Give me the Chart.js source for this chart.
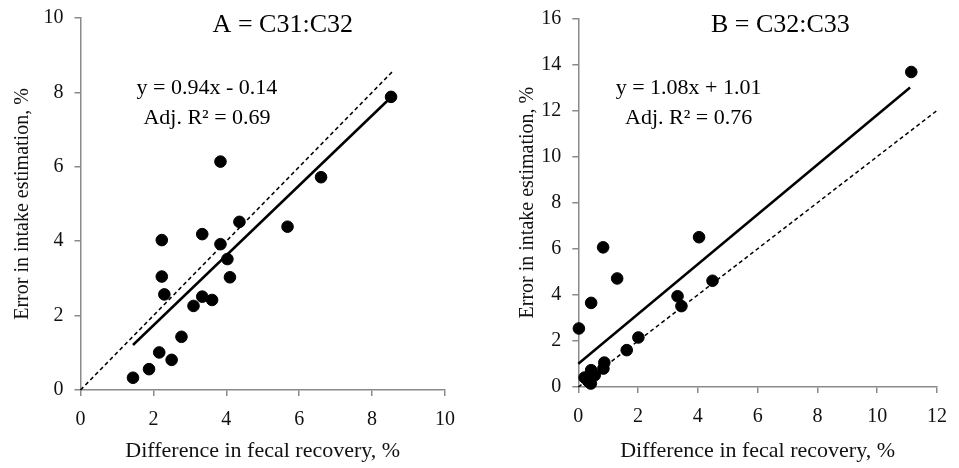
<!DOCTYPE html>
<html>
<head>
<meta charset="utf-8">
<script src="https://cdn.jsdelivr.net/npm/chart.js@4.4.1/dist/chart.umd.min.js"></script>
<style>
  body { margin: 0; background: #fff; width: 959px; height: 468px; overflow: hidden; position: relative; }
  canvas { position: absolute; top: 0; }
  #chartA { left: 0; }
  #chartB { left: 480px; }
</style>
</head>
<body>
<canvas id="chartA" width="480" height="468"></canvas>
<canvas id="chartB" width="479" height="468"></canvas>
<script>
// panel A  (C31:C32)
const pointsA = [
  {x: 1.44, y: 0.33}, {x: 1.88, y: 0.56}, {x: 2.16, y: 1.01}, {x: 2.50, y: 0.81},
  {x: 2.77, y: 1.43}, {x: 2.23, y: 4.03}, {x: 2.23, y: 3.05}, {x: 2.30, y: 2.57},
  {x: 3.10, y: 2.26}, {x: 3.34, y: 2.51}, {x: 3.61, y: 2.42}, {x: 3.34, y: 4.19},
  {x: 3.84, y: 3.92}, {x: 4.03, y: 3.52}, {x: 4.10, y: 3.03}, {x: 4.36, y: 4.52},
  {x: 3.84, y: 6.14}, {x: 5.68, y: 4.39}, {x: 6.60, y: 5.72}, {x: 8.52, y: 7.88}
];
const fitA = [{x: 1.44, y: 1.21}, {x: 8.52, y: 7.87}];
const identityA = [{x: 0, y: 0}, {x: 8.55, y: 8.55}];
const xTicksA = [0, 2, 4, 6, 8, 10];
const yTicksA = [0, 2, 4, 6, 8, 10];
const titleA = 'A = C31:C32';
const eqA = 'y = 0.94x - 0.14';
const r2A = 'Adj. R\u00b2 = 0.69';

// panel B  (C32:C33)
const pointsB = [
  {x: 0.02, y: 2.54}, {x: 0.21, y: 0.41}, {x: 0.33, y: 0.25}, {x: 0.42, y: 0.15},
  {x: 0.43, y: 0.73}, {x: 0.43, y: 3.65}, {x: 0.55, y: 0.51}, {x: 0.83, y: 6.06},
  {x: 0.84, y: 0.80}, {x: 0.87, y: 1.06}, {x: 1.30, y: 4.71}, {x: 1.62, y: 1.60},
  {x: 2.01, y: 2.15}, {x: 3.32, y: 3.94}, {x: 3.45, y: 3.51}, {x: 4.04, y: 6.50},
  {x: 4.49, y: 4.61}, {x: 11.14, y: 13.67}
];
const fitB = [{x: 0, y: 1.01}, {x: 11.1, y: 13.0}];
const identityB = [{x: 0, y: 0}, {x: 12, y: 12}];
const xTicksB = [0, 2, 4, 6, 8, 10, 12];
const yTicksB = [0, 2, 4, 6, 8, 10, 12, 14, 16];
const titleB = 'B = C32:C33';
const eqB = 'y = 1.08x + 1.01';
const r2B = 'Adj. R\u00b2 = 0.76';

const FONT = '"Liberation Serif", "Times New Roman", serif';
const AXIS = '#8a8a8a';

const textPlugin = {
  id: 'texts',
  afterDatasetsDraw(chart, args, opts) {
    const ctx = chart.ctx, sx = chart.scales.x, sy = chart.scales.y;
    ctx.save();
    ctx.fillStyle = '#000';
    ctx.textAlign = 'center';
    ctx.textBaseline = 'middle';
    opts.items.forEach(function (it) {
      ctx.font = it.size + 'px ' + FONT;
      ctx.fillText(it.text, sx.getPixelForValue(it.x), sy.getPixelForValue(it.y));
    });
    ctx.restore();
  }
};

function makeChart(id, p) {
  return new Chart(document.getElementById(id), {
    type: 'scatter',
    data: {
      datasets: [
        {
          type: 'line', data: p.identity, borderColor: '#000', borderWidth: 1.5,
          borderDash: [4, 3], pointRadius: 0, fill: false, clip: false
        },
        {
          type: 'line', data: p.fit, borderColor: '#000', borderWidth: 2.5,
          pointRadius: 0, fill: false, clip: false
        },
        {
          data: p.points, backgroundColor: '#000', borderColor: '#000',
          pointRadius: 5.8, pointHoverRadius: 5.8, clip: false
        }
      ]
    },
    options: {
      responsive: false,
      animation: false,
      events: [],
      layout: { padding: { left: 0, right: p.padRight, top: p.padTop, bottom: 0 } },
      plugins: {
        legend: { display: false },
        tooltip: { enabled: false },
        texts: { items: p.texts }
      },
      scales: {
        x: {
          type: 'linear', min: p.xTicks[0], max: p.xTicks[p.xTicks.length - 1],
          afterBuildTicks: function (s) { s.ticks = p.xTicks.map(function (v) { return {value: v}; }); },
          afterFit: function (s) { s.height = p.xHeight; },
          border: { color: AXIS, width: 1.5 },
          grid: { drawOnChartArea: false, drawTicks: true, tickLength: 6, color: AXIS, lineWidth: 1.5 },
          ticks: { color: '#111', font: { family: FONT, size: 20 }, padding: 12, maxRotation: 0 },
          title: {
            display: true, text: 'Difference in fecal recovery, %', color: '#111',
            font: { family: FONT, size: 22 }, padding: { top: 0, bottom: 4 }
          }
        },
        y: {
          type: 'linear', min: p.yTicks[0], max: p.yTicks[p.yTicks.length - 1],
          afterBuildTicks: function (s) { s.ticks = p.yTicks.map(function (v) { return {value: v}; }); },
          afterFit: function (s) {
            s.width = p.yWidth;
            // keep the label half-heights from pushing the plot area down
            s.paddingTop = 0;
            s.paddingBottom = 0;
          },
          border: { color: AXIS, width: 1.5 },
          grid: { drawOnChartArea: false, drawTicks: true, tickLength: 6, color: AXIS, lineWidth: 1.5 },
          ticks: { color: '#111', font: { family: FONT, size: 20 }, padding: 11 },
          title: {
            display: true, text: 'Error in intake estimation, %', color: '#111',
            font: { family: FONT, size: 20 }, padding: { top: p.yTitlePad, bottom: 0 }
          }
        }
      }
    },
    plugins: [textPlugin]
  });
}

makeChart('chartA', {
  points: pointsA, fit: fitA, identity: identityA, xTicks: xTicksA, yTicks: yTicksA,
  padRight: 35, padTop: 18, xHeight: 78, yWidth: 80.5, yTitlePad: 11,
  texts: [
    {text: titleA, x: 5.55, y: 9.81, size: 26},
    {text: eqA, x: 3.47, y: 8.12, size: 22},
    {text: r2A, x: 3.47, y: 7.3, size: 22}
  ]
});

makeChart('chartB', {
  points: pointsB, fit: fitB, identity: identityB, xTicks: xTicksB, yTicks: yTicksB,
  padRight: 17.3, padTop: 18.3, xHeight: 81, yWidth: 98.3, yTitlePad: 36,
  texts: [
    {text: titleB, x: 6.76, y: 15.71, size: 26},
    {text: eqB, x: 3.69, y: 12.95, size: 22},
    {text: r2B, x: 3.69, y: 11.65, size: 22}
  ]
});
</script>
</body>
</html>
